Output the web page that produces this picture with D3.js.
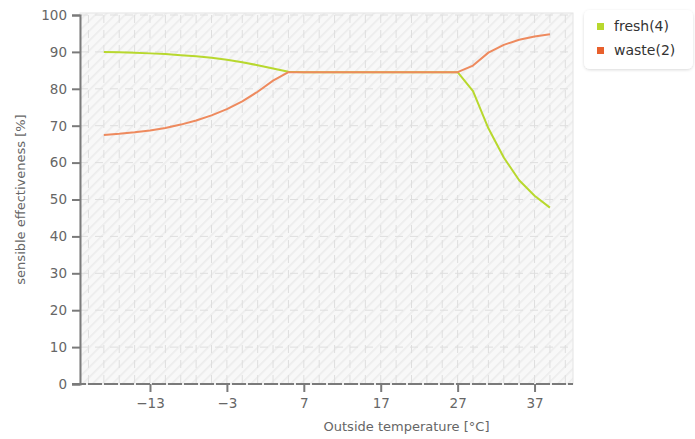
<!DOCTYPE html>
<html>
<head>
<meta charset="utf-8">
<script src="https://cdn.jsdelivr.net/npm/d3@7"></script>
<style>
  body { margin: 0; background: #fff; }
  svg text { font-family: "DejaVu Sans", Verdana, sans-serif; }
</style>
</head>
<body>
<svg id="chart" width="695" height="439"></svg>
<script>
// temperatures (degC), every 2 degrees
const temps = [-19,-17,-15,-13,-11,-9,-7,-5,-3,-1,1,3,5,7,9,11,13,15,17,19,21,23,25,27,29,31,33,35,37,39]
const fresh = [90.0,89.9,89.8,89.6,89.4,89.1,88.8,88.4,87.9,87.2,86.4,85.5,84.6,84.5,84.5,84.5,84.5,84.5,84.5,84.5,84.5,84.5,84.5,84.5,79.4,69.3,61.4,55.2,51.0,47.8]
const waste = [67.5,67.8,68.2,68.7,69.4,70.3,71.4,72.8,74.5,76.6,79.2,82.2,84.5,84.5,84.5,84.5,84.5,84.5,84.5,84.5,84.5,84.5,84.5,84.5,86.3,89.8,91.9,93.3,94.2,94.8]
const xTicks = [-13,-3,7,17,27,37]
const yTicks = [0,10,20,30,40,50,60,70,80,90,100]
const seriesNames = ["fresh(4)", "waste(2)"]
const colors = ["#b8d82e", "#e8602c"]

const svg = d3.select("#chart")
const m = {left: 80, right: 122, top: 15, bottom: 55}
const W = 695, H = 439
const x = d3.scaleLinear().domain([-22.1, 42]).range([m.left, W - m.right])
const y = d3.scaleLinear().domain([0, 100]).range([H - m.bottom, m.top])

// hatch background
const defs = svg.append("defs")
const pat = defs.append("pattern").attr("id","hatch").attr("patternUnits","userSpaceOnUse")
  .attr("width",7).attr("height",7).attr("patternTransform","rotate(45)")
pat.append("rect").attr("width",7).attr("height",7).attr("fill","#f8f8f8")
pat.append("rect").attr("width",1.6).attr("height",7).attr("fill","#ececec")

const x0 = x.range()[0], x1 = x.range()[1], y0 = y.range()[0], y1 = y.range()[1]
svg.append("rect").attr("x",x0).attr("y",y1 - 2).attr("width",x1 - x0).attr("height",y0 - y1 + 2)
  .attr("fill","url(#hatch)").attr("stroke","#e4e4e4")

// grid
const vgrid = d3.range(-21, 42, 2)
svg.append("g").selectAll("line").data(vgrid).join("line")
  .attr("x1", d => x(d)).attr("x2", d => x(d)).attr("y1", y1).attr("y2", y0)
  .attr("stroke","#dedede").attr("stroke-width",1).attr("stroke-dasharray","8,7")
svg.append("g").selectAll("line").data(yTicks.filter(d => d > 0)).join("line")
  .attr("x1", x0).attr("x2", x1).attr("y1", d => y(d)).attr("y2", d => y(d))
  .attr("stroke","#dedede").attr("stroke-width",1).attr("stroke-dasharray","8,7")

// axes
const yAxis = svg.append("g").attr("transform",`translate(${x0},0)`)
  .call(d3.axisLeft(y).tickValues(yTicks).tickSize(8).tickPadding(5))
const xAxis = svg.append("g").attr("transform",`translate(0,${y0})`)
  .call(d3.axisBottom(x).tickValues(xTicks).tickSize(8).tickPadding(6))
;[xAxis, yAxis].forEach(g => {
  g.select(".domain").attr("stroke","#7a7a7a").attr("stroke-width",2)
  g.selectAll(".tick line").attr("stroke","#7a7a7a").attr("stroke-width",2)
  g.selectAll("text").attr("fill","#666").attr("font-size",13.5)
})
xAxis.select(".domain").attr("d",`M${x0 - 8},0H${x1}`).attr("stroke-dasharray","14,2")

svg.append("text").attr("x", (x0 + x1) / 2 + 80).attr("y", 431).attr("text-anchor","middle")
  .attr("fill","#666").attr("font-size",13).text("Outside temperature [°C]")
svg.append("text").attr("transform",`translate(25,${(y0 + y1) / 2}) rotate(-90)`)
  .attr("text-anchor","middle").attr("fill","#666").attr("font-size",13).text("sensible effectiveness [%]")

// lines
const line = d3.line().x(d => x(d[0])).y(d => y(d[1]))
;[fresh, waste].forEach((s, i) => {
  svg.append("path").datum(temps.map((t, j) => [t, s[j]]))
    .attr("d", line).attr("fill","none").attr("stroke", i ? "#ee8a5e" : colors[0])
    .attr("stroke-width",2).attr("stroke-linejoin","round")
})

// legend
const lg = svg.append("g").attr("transform","translate(584,10)")
defs.append("filter").attr("id","sh").append("feDropShadow")
  .attr("dx",0).attr("dy",1).attr("stdDeviation",1.5).attr("flood-opacity",0.15)
lg.append("rect").attr("width",109).attr("height",59).attr("rx",6)
  .attr("fill","#fff").attr("filter","url(#sh)")
seriesNames.forEach((n, i) => {
  lg.append("rect").attr("x",13).attr("y",13 + i * 24).attr("width",7).attr("height",7).attr("fill",colors[i])
  lg.append("text").attr("x",30).attr("y",21 + i * 24).attr("fill","#333").attr("font-size",14).text(n)
})
</script>
</body>
</html>
